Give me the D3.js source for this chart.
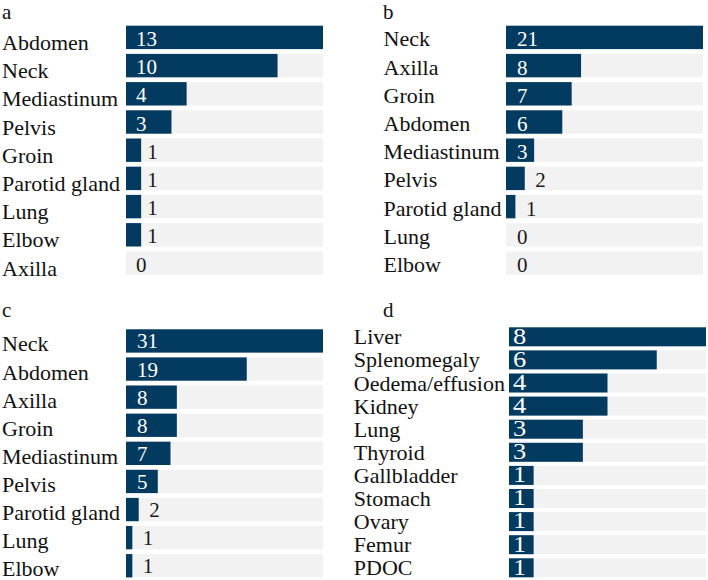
<!DOCTYPE html>
<html>
<head>
<meta charset="utf-8">
<script src="https://cdn.jsdelivr.net/npm/d3@7"></script>
<style>
  html, body { margin: 0; padding: 0; background: #fff; }
  svg { display: block; }
</style>
</head>
<body>
<svg id="chart" width="708" height="580"></svg>
<script>
// ---- data ----
const catsA = ["Abdomen", "Neck", "Mediastinum", "Pelvis", "Groin", "Parotid gland", "Lung", "Elbow", "Axilla"];
const valsA = [13, 10, 4, 3, 1, 1, 1, 1, 0];

const catsB = ["Neck", "Axilla", "Groin", "Abdomen", "Mediastinum", "Pelvis", "Parotid gland", "Lung", "Elbow"];
const valsB = [21, 8, 7, 6, 3, 2, 1, 0, 0];

const catsC = ["Neck", "Abdomen", "Axilla", "Groin", "Mediastinum", "Pelvis", "Parotid gland", "Lung", "Elbow"];
const valsC = [31, 19, 8, 8, 7, 5, 2, 1, 1];

const catsD = ["Liver", "Splenomegaly", "Oedema/effusion", "Kidney", "Lung", "Thyroid", "Gallbladder", "Stomach", "Ovary", "Femur", "PDOC"];
const valsD = [8, 6, 4, 4, 3, 3, 1, 1, 1, 1, 1];

const panelTitles = ["a", "b", "c", "d"];

// ---- layout (positions / styles only) ----
const FONT = "'Liberation Serif', 'Times New Roman', Tinos, 'DejaVu Serif', serif";
const BAR = "#023a60";
const TRACK = "#f2f2f2";
const panels = [
  { title: panelTitles[0], cats: catsA, vals: valsA, titleX: 2, titleY: 18.8, labelX: 2,
    x0: 126, x1: 323, y0: 23.3, step: 28.2, padIn: 0.17, catDy: 12.5, valDy: 8.5,
    inX: 10, outX: 6, minIn: 22, valSize: 21, valScale: 1 },
  { title: panelTitles[1], cats: catsB, vals: valsB, titleX: 383, titleY: 18.8, labelX: 383.5,
    x0: 506, x1: 703, y0: 23.3, step: 28.2, padIn: 0.17, catDy: 9, valDy: 9,
    inX: 11, outX: 10.5, minIn: 22, valSize: 21, valScale: 1 },
  { title: panelTitles[2], cats: catsC, vals: valsC, titleX: 2, titleY: 316.7, labelX: 2,
    x0: 126, x1: 323, y0: 326.9, step: 28.1, padIn: 0.17, catDy: 10.5, valDy: 7.5,
    inX: 11, outX: 10.5, minIn: 22, valSize: 21, valScale: 1 },
  { title: panelTitles[3], cats: catsD, vals: valsD, titleX: 383, titleY: 317.3, labelX: 353.8,
    x0: 509, x1: 706, y0: 325.25, step: 23.1, padIn: 0.177, catDy: 7.5, valDy: 6.8,
    inX: 4, outX: 6, minIn: 22, valSize: 23, valScale: 1.15 }
];

const svg = d3.select("#chart").attr("font-family", FONT);

panels.forEach(p => {
  const n = p.cats.length;
  const g = svg.append("g");

  const x = d3.scaleLinear().domain([0, d3.max(p.vals)]).range([p.x0, p.x1]);
  const y = d3.scaleBand().domain(p.cats)
    .range([p.y0, p.y0 + n * p.step])
    .paddingInner(p.padIn).paddingOuter(p.padIn / 2);

  const data = p.cats.map((c, i) => ({ cat: c, val: p.vals[i] }));

  g.append("text")
    .attr("x", p.titleX).attr("y", p.titleY)
    .attr("font-family", FONT)
    .attr("font-size", 21).attr("fill", "#111")
    .text(p.title);

  // tracks
  g.selectAll("rect.track").data(data).join("rect")
    .attr("class", "track")
    .attr("x", x(0)).attr("width", x.range()[1] - x(0))
    .attr("y", d => y(d.cat)).attr("height", y.bandwidth())
    .attr("fill", TRACK);

  // bars
  g.selectAll("rect.bar").data(data).join("rect")
    .attr("class", "bar")
    .attr("x", x(0)).attr("width", d => x(d.val) - x(0))
    .attr("y", d => y(d.cat)).attr("height", y.bandwidth())
    .attr("fill", BAR);

  // category labels
  g.selectAll("text.cat").data(data).join("text")
    .attr("class", "cat")
    .attr("x", p.labelX)
    .attr("y", d => y(d.cat) + y.bandwidth() / 2 + p.catDy)
    .attr("font-family", FONT)
    .attr("font-size", 22).attr("fill", "#111")
    .text(d => d.cat);

  // value labels
  g.selectAll("text.val").data(data).join("text")
    .attr("class", "val")
    .attr("transform", d => {
      const w = x(d.val) - x(0);
      const inside = w >= p.minIn;
      const tx = inside ? x(0) + p.inX : Math.max(x(0) + p.inX, x(d.val) + p.outX);
      const ty = y(d.cat) + y.bandwidth() / 2 + p.valDy;
      return `translate(${tx},${ty}) scale(${p.valScale},1)`;
    })
    .attr("font-family", FONT)
    .attr("font-size", p.valSize)
    .attr("fill", d => (x(d.val) - x(0) >= p.minIn) ? "#ffffff" : "#1a1a1a")
    .text(d => d.val);
});
</script>
</body>
</html>
